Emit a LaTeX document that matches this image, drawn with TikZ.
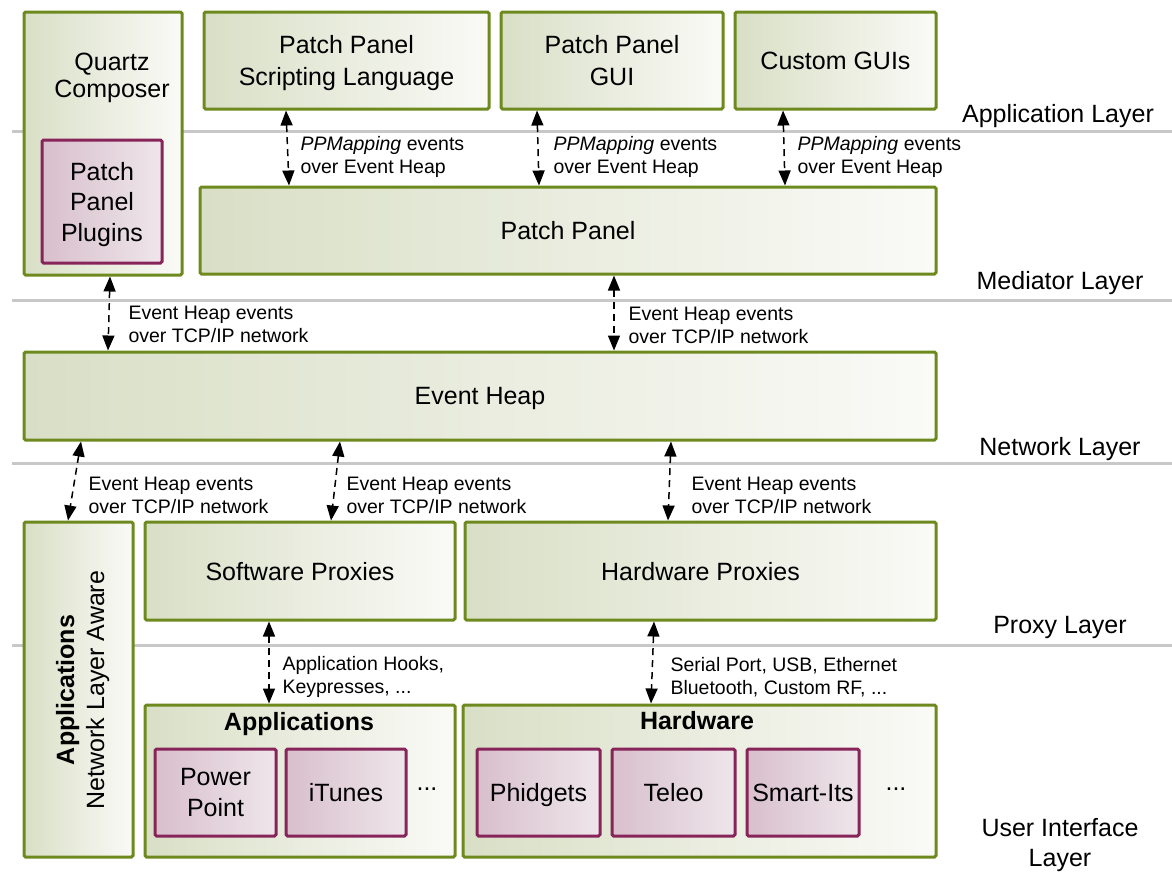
\documentclass[tikz,border=0pt]{standalone}
\usepackage{fontspec}
\setmainfont{Liberation Sans}
\usetikzlibrary{arrows.meta,calc}
\definecolor{olive}{HTML}{6E8A1E}
\definecolor{boxL}{HTML}{D9DFC6}
\definecolor{boxR}{HTML}{FAFAF7}
\definecolor{plum}{HTML}{872459}
\definecolor{plumL}{HTML}{D8BFCC}
\definecolor{plumR}{HTML}{EEE6EA}
\definecolor{layergray}{HTML}{C8C8C8}
\newcommand{\bigfnt}{\fontsize{25}{30}\selectfont}
\newcommand{\smallfnt}{\fontsize{19.5}{23}\selectfont}
\newcommand{\plumfnt}{\fontsize{25}{30.5}\selectfont}
\tikzset{
  gbox/.style={draw=olive, line width=3pt, rounded corners=1.5pt, left color=boxL, right color=boxR, inner sep=0pt},
  pbox/.style={draw=plum, line width=3pt, rounded corners=1.5pt, left color=plumL, right color=plumR, inner sep=0pt, align=center, font=\plumfnt, text depth=0pt},
  big/.style={font=\bigfnt, align=center, text depth=0pt},
  small/.style={font=\smallfnt, align=left, anchor=west},
  layerline/.style={draw=layergray, line width=3pt},
  arr/.style={line width=1.5pt, dash pattern=on 7pt off 5pt, {Triangle[width=12pt,length=15pt]}-{Triangle[width=12pt,length=15pt]}},
}
\begin{document}
\begin{tikzpicture}[x=1pt,y=-1pt]
\useasboundingbox (0,0) rectangle (1172,873);
\fill[white] (0,0) rectangle (1172,873);
% layer lines
\draw[layerline] (12,131) -- (1172,131);
\draw[layerline] (12,300) -- (1172,300);
\draw[layerline] (12,463) -- (1172,463);
\draw[layerline] (12,645) -- (1172,645);
% layer labels
\node[big] (l1) at (1058,113) {Application Layer};
\node[big] (l2) at (1060,280) {Mediator Layer};
\node[big] (l3) at (1060,446) {Network Layer};
\node[big] (l4) at (1060,625) {Proxy Layer};
\node[big] (l5) at (1060,842) {User Interface\\Layer};
% application layer
\node[gbox, minimum width=158pt, minimum height=263pt] (quartz) at (103,143.5) {};
\node[big, font=\fontsize{25}{27}\selectfont] (quartzt) at (112,75) {Quartz\\Composer};
\node[pbox, minimum width=120pt, minimum height=123pt] (plugins) at (102,201.5) {Patch\\Panel\\Plugins};
\node[gbox, big, minimum width=285pt, minimum height=97pt, font=\fontsize{25}{32}\selectfont] (script) at (346.5,60.5) {Patch Panel\\Scripting Language};
\node[gbox, big, minimum width=222pt, minimum height=97pt, font=\fontsize{25}{32}\selectfont] (gui) at (612,60.5) {Patch Panel\\GUI};
\node[gbox, big, minimum width=201pt, minimum height=97pt] (custom) at (835.5,60.5) {Custom GUIs};
% mediator
\node[gbox, big, minimum width=736pt, minimum height=87pt] (pp) at (568,230.5) {Patch Panel};
% network
\node[gbox, big, minimum width=912pt, minimum height=88pt] (eh) at (480,396) {Event Heap};
% proxy
\node[gbox, minimum width=109pt, minimum height=335pt] (appsv) at (78.5,689.5) {};
\node[big, rotate=90] (appsvt) at (80,690) {\textbf{Applications}\\Network Layer Aware};
\node[gbox, big, minimum width=310pt, minimum height=98pt] (swp) at (300,571) {Software Proxies};
\node[gbox, big, minimum width=471pt, minimum height=98pt] (hwp) at (700.5,571) {Hardware Proxies};
% UI layer
\node[gbox, minimum width=310pt, minimum height=152pt] (apps) at (300,781) {};
\node[big] (appst) at (299,721) {\textbf{Applications}};
\node[gbox, minimum width=473pt, minimum height=152pt] (hw) at (699.5,781) {};
\node[big] (hwt) at (697,720) {\textbf{Hardware}};
\node[pbox, minimum width=121pt, minimum height=87pt] (ppt) at (215.5,792.5) {Power\\Point};
\node[pbox, minimum width=120pt, minimum height=87pt] (itunes) at (346,792.5) {iTunes};
\node[font=\bigfnt, anchor=base] (dots1) at (427,790) {...};
\node[pbox, minimum width=123pt, minimum height=87pt] (phid) at (538.5,792.5) {Phidgets};
\node[pbox, minimum width=123pt, minimum height=87pt] (teleo) at (673.5,792.5) {Teleo};
\node[pbox, minimum width=112pt, minimum height=87pt] (smart) at (803,792.5) {Smart-Its};
\node[font=\bigfnt, anchor=base] (dots2) at (896,790) {...};
% arrows app -> mediator
\draw[arr] (286,0 |- script.south) -- (289,0 |- pp.north);
\node[small] (a1) at (297,156.5) {\textit{PPMapping} events\\over Event Heap};
\draw[arr] (537,0 |- gui.south) -- (539,0 |- pp.north);
\node[small] (a2) at (550,156.5) {\textit{PPMapping} events\\over Event Heap};
\draw[arr] (783,0 |- custom.south) -- (785,0 |- pp.north);
\node[small] (a3) at (794,156.5) {\textit{PPMapping} events\\over Event Heap};
% mediator -> network
\draw[arr] (110,0 |- quartz.south) -- (108,0 |- eh.north);
\node[small] (a4) at (125,324.5) {Event Heap events\\over TCP/IP network};
\draw[arr] (614,0 |- pp.south) -- (614,0 |- eh.north);
\node[small] (a5) at (625,325.5) {Event Heap events\\over TCP/IP network};
% network -> proxy
\draw[arr] (81,0 |- eh.south) -- (68,0 |- appsv.north);
\node[small] (a6) at (85,495.5) {Event Heap events\\over TCP/IP network};
\draw[arr] (340,0 |- eh.south) -- (331,0 |- swp.north);
\node[small] (a7) at (343,495.5) {Event Heap events\\over TCP/IP network};
\draw[arr] (671,0 |- eh.south) -- (668,0 |- hwp.north);
\node[small] (a8) at (688,495.5) {Event Heap events\\over TCP/IP network};
% proxy -> UI
\draw[arr] (269,0 |- swp.south) -- (269,0 |- apps.north);
\node[small] (a9) at (279,676.5) {Application Hooks,\\Keypresses, ...};
\draw[arr] (654,0 |- hwp.south) -- (651,0 |- hw.north);
\node[small] (a10) at (667,677.5) {Serial Port, USB, Ethernet\\Bluetooth, Custom RF, ...};
\end{tikzpicture}
\end{document}
